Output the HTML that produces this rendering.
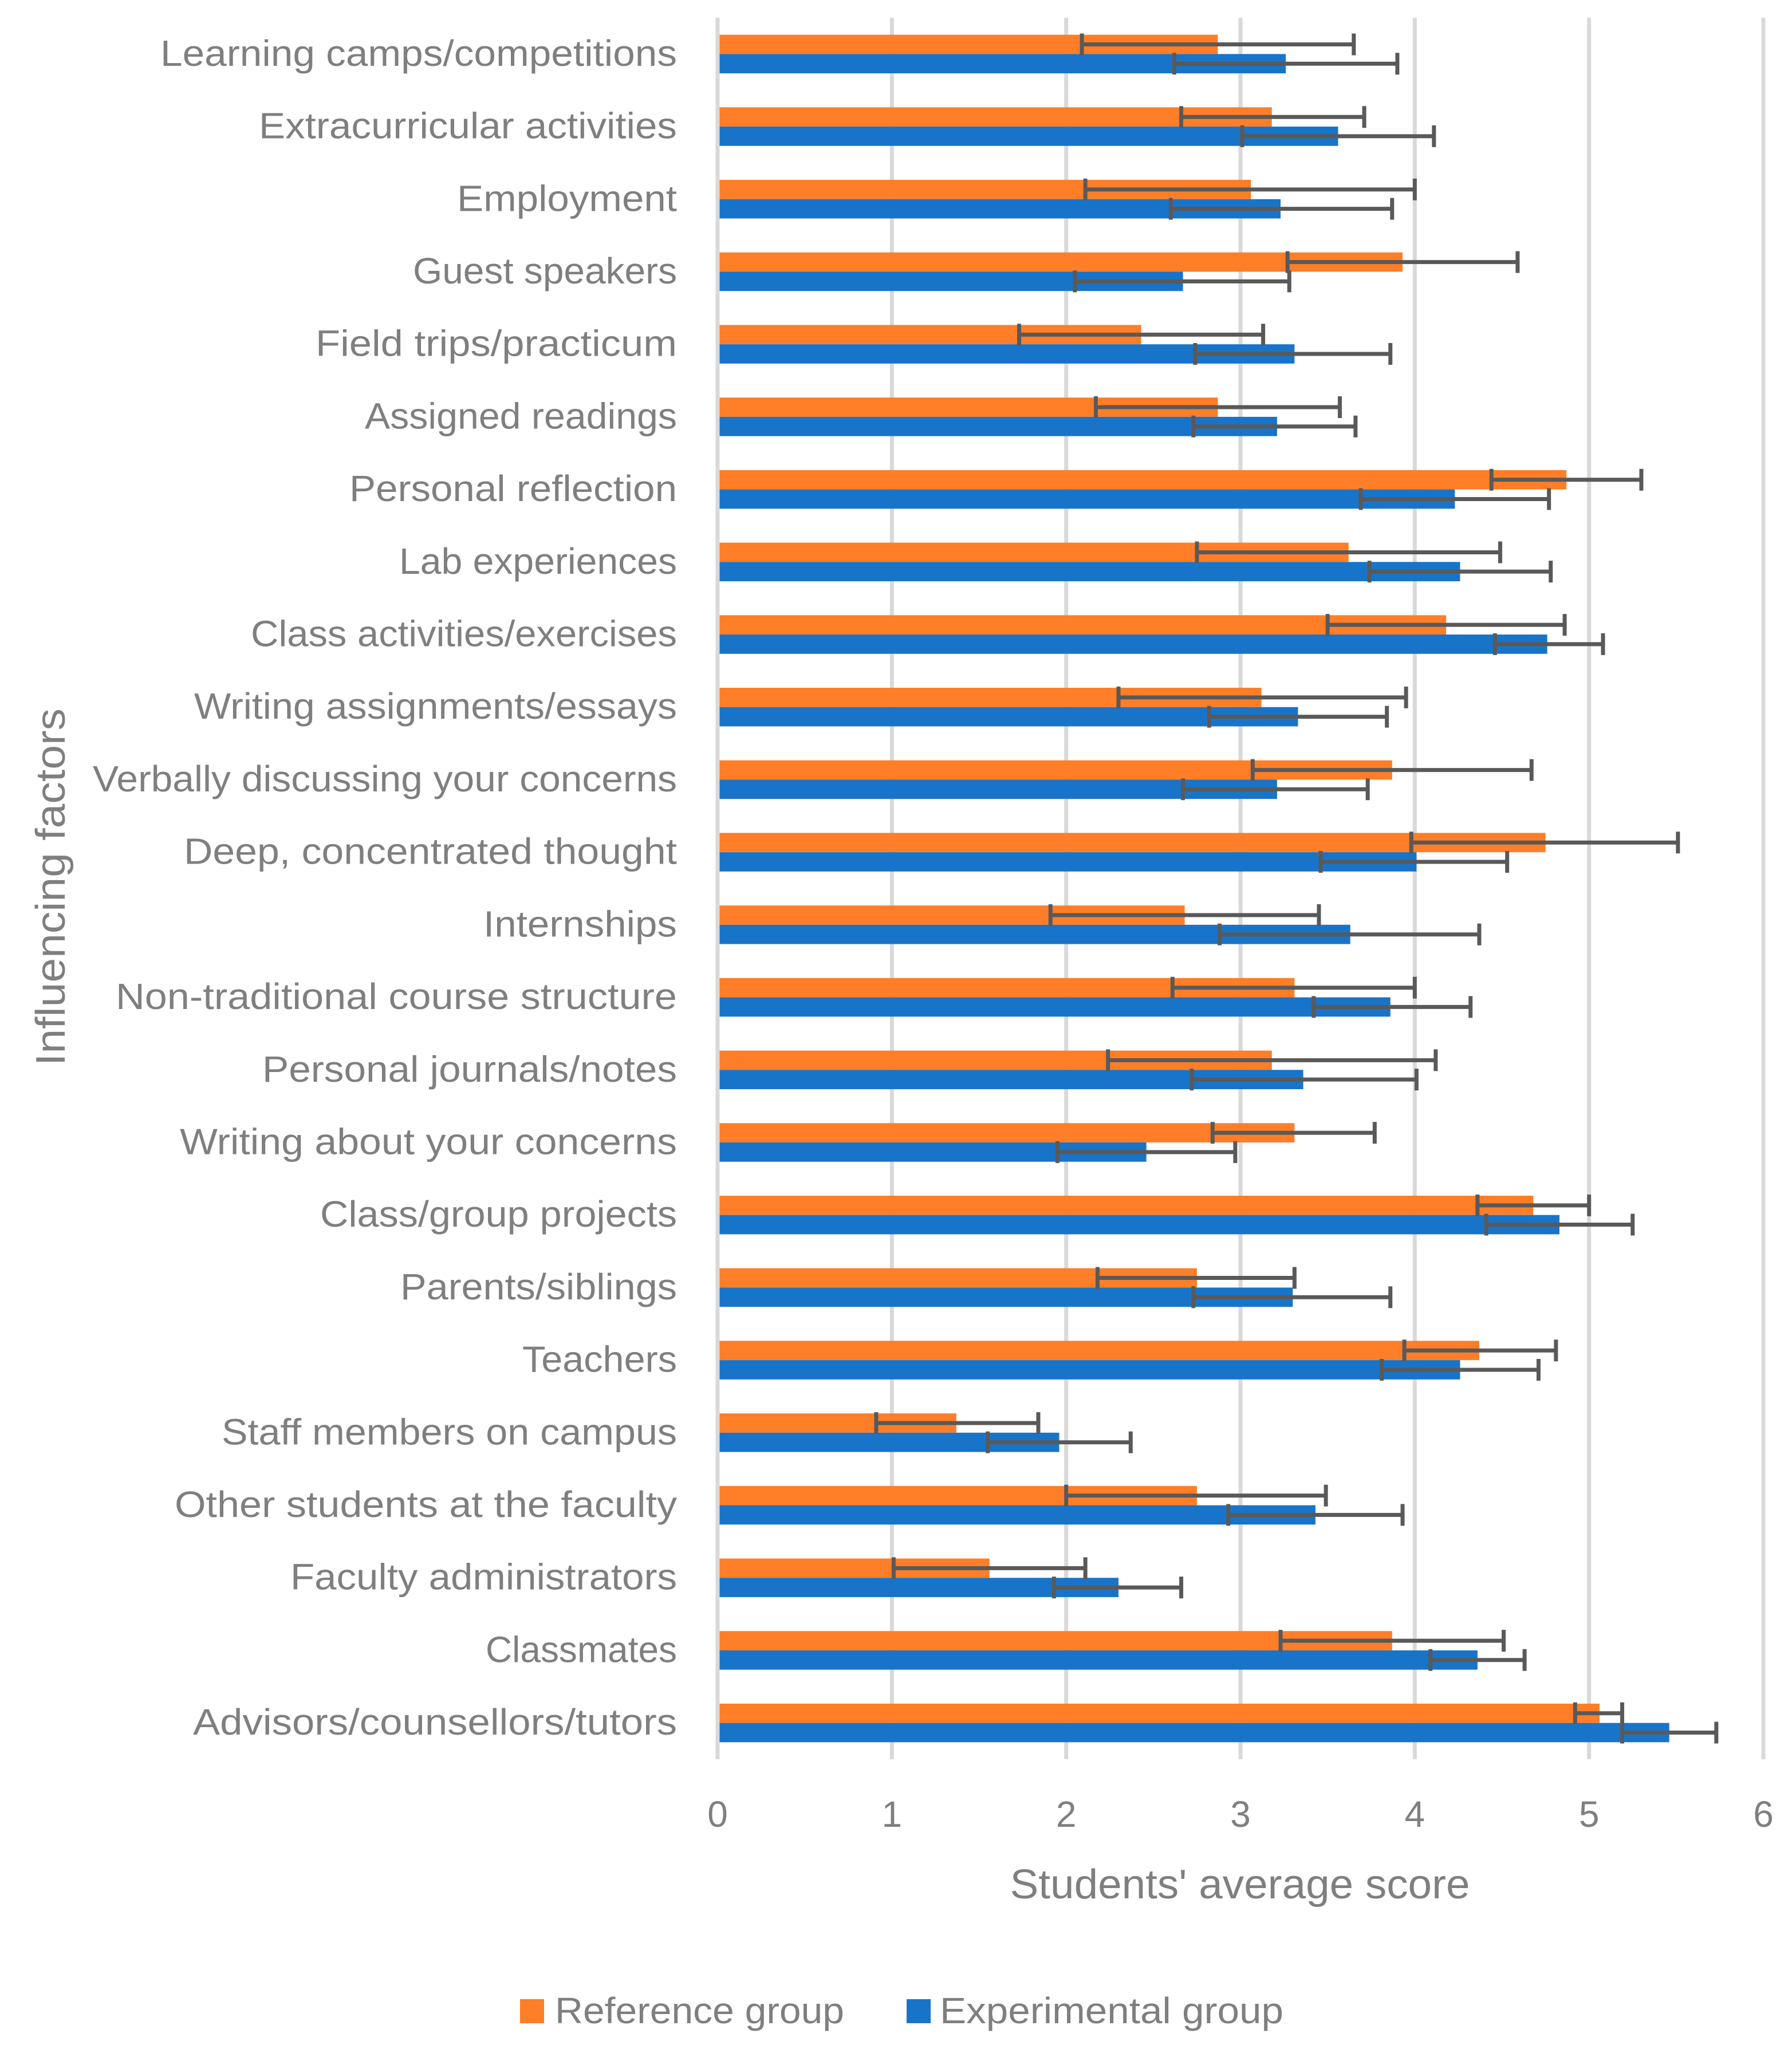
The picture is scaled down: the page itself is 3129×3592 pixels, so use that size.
<!DOCTYPE html>
<html lang="en">
<head>
<meta charset="utf-8">
<title>Influencing factors: students' average score</title>
<style>
html,body{margin:0;padding:0;background:#fff;}
svg{display:block;}
text{font-family:"Liberation Sans",sans-serif;fill:#7f7f7f;}
</style>
</head>
<body>
<svg id="chart" xmlns="http://www.w3.org/2000/svg" width="3129" height="3592" viewBox="0 0 3129 3592">
  <rect x="0" y="0" width="3129" height="3592" fill="#ffffff"/>
  <g id="grid"></g>
  <g id="bars"></g>
  <g id="errors"></g>
  <g id="ylabels" font-size="64" text-anchor="end" lengthAdjust="spacingAndGlyphs">
    <text x="1182" textLength="902" lengthAdjust="spacingAndGlyphs">Learning camps/competitions</text>
    <text x="1182" textLength="730" lengthAdjust="spacingAndGlyphs">Extracurricular activities</text>
    <text x="1182" textLength="384" lengthAdjust="spacingAndGlyphs">Employment</text>
    <text x="1182" textLength="461" lengthAdjust="spacingAndGlyphs">Guest speakers</text>
    <text x="1182" textLength="631" lengthAdjust="spacingAndGlyphs">Field trips/practicum</text>
    <text x="1182" textLength="545" lengthAdjust="spacingAndGlyphs">Assigned readings</text>
    <text x="1182" textLength="572" lengthAdjust="spacingAndGlyphs">Personal reflection</text>
    <text x="1182" textLength="485" lengthAdjust="spacingAndGlyphs">Lab experiences</text>
    <text x="1182" textLength="744" lengthAdjust="spacingAndGlyphs">Class activities/exercises</text>
    <text x="1182" textLength="843" lengthAdjust="spacingAndGlyphs">Writing assignments/essays</text>
    <text x="1182" textLength="1020" lengthAdjust="spacingAndGlyphs">Verbally discussing your concerns</text>
    <text x="1182" textLength="861" lengthAdjust="spacingAndGlyphs">Deep, concentrated thought</text>
    <text x="1182" textLength="338" lengthAdjust="spacingAndGlyphs">Internships</text>
    <text x="1182" textLength="980" lengthAdjust="spacingAndGlyphs">Non-traditional course structure</text>
    <text x="1182" textLength="724" lengthAdjust="spacingAndGlyphs">Personal journals/notes</text>
    <text x="1182" textLength="868" lengthAdjust="spacingAndGlyphs">Writing about your concerns</text>
    <text x="1182" textLength="623" lengthAdjust="spacingAndGlyphs">Class/group projects</text>
    <text x="1182" textLength="483" lengthAdjust="spacingAndGlyphs">Parents/siblings</text>
    <text x="1182" textLength="270" lengthAdjust="spacingAndGlyphs">Teachers</text>
    <text x="1182" textLength="795" lengthAdjust="spacingAndGlyphs">Staff members on campus</text>
    <text x="1182" textLength="877" lengthAdjust="spacingAndGlyphs">Other students at the faculty</text>
    <text x="1182" textLength="675" lengthAdjust="spacingAndGlyphs">Faculty administrators</text>
    <text x="1182" textLength="334" lengthAdjust="spacingAndGlyphs">Classmates</text>
    <text x="1182" textLength="845" lengthAdjust="spacingAndGlyphs">Advisors/counsellors/tutors</text>
  </g>
  <g id="xlabels"></g>
  <text x="2165" y="3315" font-size="72" text-anchor="middle" textLength="803" lengthAdjust="spacingAndGlyphs">Students' average score</text>
  <text x="0" y="0" font-size="72" text-anchor="middle" textLength="624" lengthAdjust="spacingAndGlyphs" transform="translate(113 1549) rotate(-90)">Influencing factors</text>
  <g>
    <rect x="908" y="3491" width="42" height="42" fill="#ff7e27"/>
    <text x="969" y="3533" font-size="64" textLength="505" lengthAdjust="spacingAndGlyphs">Reference group</text>
    <rect x="1583" y="3491" width="42" height="42" fill="#1874c9"/>
    <text x="1641" y="3533" font-size="64" textLength="600" lengthAdjust="spacingAndGlyphs">Experimental group</text>
  </g>
</svg>
<script>
const categories = ["Learning camps/competitions","Extracurricular activities","Employment","Guest speakers","Field trips/practicum","Assigned readings","Personal reflection","Lab experiences","Class activities/exercises","Writing assignments/essays","Verbally discussing your concerns","Deep, concentrated thought","Internships","Non-traditional course structure","Personal journals/notes","Writing about your concerns","Class/group projects","Parents/siblings","Teachers","Staff members on campus","Other students at the faculty","Faculty administrators","Classmates","Advisors/counsellors/tutors"];
const referenceMeans = [2.87,3.18,3.06,3.93,2.43,2.87,4.87,3.62,4.18,3.12,3.87,4.75,2.68,3.31,3.18,3.31,4.68,2.75,4.37,1.37,2.75,1.56,3.87,5.06];
const referenceLow = [2.09,2.66,2.11,3.27,1.73,2.17,4.44,2.75,3.50,2.30,3.07,3.98,1.91,2.61,2.24,2.84,4.36,2.18,3.94,0.91,2.00,1.01,3.23,4.92];
const referenceHigh = [3.65,3.71,4.00,4.59,3.13,3.57,5.30,4.49,4.86,3.95,4.67,5.51,3.45,4.00,4.12,3.77,5.00,3.31,4.81,1.84,3.49,2.11,4.51,5.19];
const experimentalMeans = [3.26,3.56,3.23,2.67,3.31,3.21,4.23,4.26,4.76,3.33,3.21,4.01,3.63,3.86,3.36,2.46,4.83,3.30,4.26,1.96,3.43,2.30,4.36,5.46];
const experimentalLow = [2.62,3.01,2.60,2.05,2.74,2.73,3.69,3.74,4.46,2.82,2.67,3.46,2.88,3.42,2.72,1.95,4.41,2.73,3.81,1.55,2.93,1.93,4.09,5.19];
const experimentalHigh = [3.90,4.11,3.87,3.28,3.86,3.66,4.77,4.78,5.08,3.84,3.73,4.53,4.37,4.32,4.01,2.97,5.25,3.86,4.71,2.37,3.93,2.66,4.63,5.73];
const xTicks = [0,1,2,3,4,5,6];

const NS = "http://www.w3.org/2000/svg";
const plotLeft = 1253, plotRight = 3079, plotTop = 31, plotBottom = 3072;
const xMax = 6;
const barH = 33.7, capH = 38, lineW = 7;
const orange = "#ff7e27", blue = "#1874c9", errColor = "#595959", gridColor = "#d9d9d9";

function xScale(v){ return plotLeft + (v / xMax) * (plotRight - plotLeft); }
function rowCenter(i){ return plotTop + (plotBottom - plotTop) * (i + 0.5) / categories.length; }
function svgEl(tag, attrs, parent){
  const el = document.createElementNS(NS, tag);
  for (const k in attrs) el.setAttribute(k, attrs[k]);
  parent.appendChild(el);
  return el;
}

const gridG = document.getElementById("grid");
const barsG = document.getElementById("bars");
const errG = document.getElementById("errors");
const yG = document.getElementById("ylabels");
const xG = document.getElementById("xlabels");

xTicks.forEach(function(t){
  const line = svgEl("line", {x1:xScale(t), x2:xScale(t), y1:plotTop, y2:plotBottom, stroke:gridColor, "stroke-width":lineW}, gridG);
  
  
  const label = svgEl("text", {x:xScale(t), y:3190, "font-size":64, "text-anchor":"middle"}, xG);
  
  
  label.textContent = String(t);
});

function drawBar(value, top, color){
  const bar = svgEl("rect", {x:xScale(0), y:top, width:xScale(value) - xScale(0), height:barH, fill:color}, barsG);
  
  
}
function drawError(low, high, cy){
  const lo = xScale(low), hi = xScale(high);
  const group = svgEl("g", {stroke:errColor, "stroke-width":lineW, fill:"none"}, errG);
  
  
  svgEl("line", {x1:lo, x2:hi, y1:cy, y2:cy}, group);
  svgEl("line", {x1:lo, x2:lo, y1:cy - capH/2, y2:cy + capH/2}, group);
  svgEl("line", {x1:hi, x2:hi, y1:cy - capH/2, y2:cy + capH/2}, group);
}

categories.forEach(function(name, i){
  const cy = rowCenter(i);
  drawBar(referenceMeans[i], cy - barH, orange);
  drawBar(experimentalMeans[i], cy, blue);
  const label = yG.children[i];
  label.setAttribute("y", cy + 20.5);
  label.textContent = name;
});

const axisLine = svgEl("line", {x1:xScale(0), x2:xScale(0), y1:plotTop, y2:plotBottom, stroke:gridColor, "stroke-width":lineW}, barsG);



categories.forEach(function(name, i){
  const cy = rowCenter(i);
  drawError(referenceLow[i], referenceHigh[i], cy - barH/2);
  drawError(experimentalLow[i], experimentalHigh[i], cy + barH/2);
});
</script>
</body>
</html>
